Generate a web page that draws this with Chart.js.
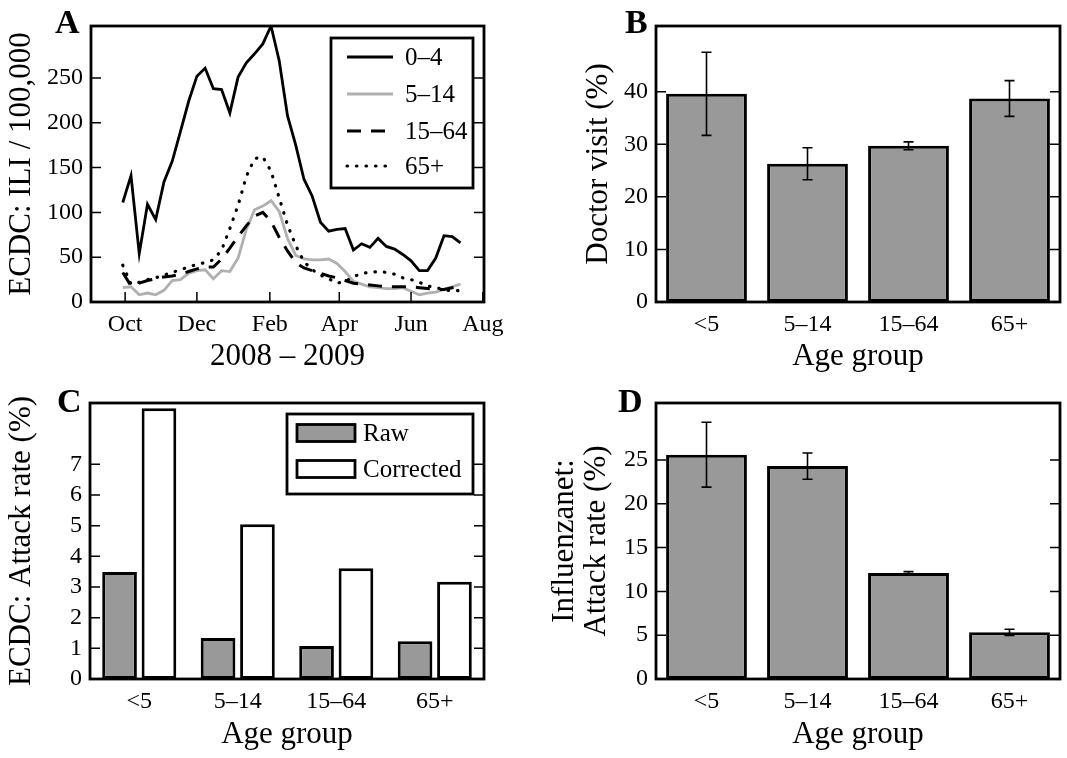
<!DOCTYPE html>
<html>
<head>
<meta charset="utf-8">
<script src="https://cdn.jsdelivr.net/npm/chart.js@4.4.0/dist/chart.umd.min.js"></script>
<style>
body{margin:0;background:#fff;}
.painel{position:absolute;}
#pa{left:0;top:0;width:540px;height:379px;}
#pb{left:540px;top:0;width:527px;height:379px;}
#pc{left:0;top:379px;width:540px;height:379px;}
#pd{left:540px;top:379px;width:527px;height:379px;}
</style>
</head>
<body>
<div class="painel" id="pa"><canvas id="grafA"></canvas></div>
<div class="painel" id="pb"><canvas id="grafB"></canvas></div>
<div class="painel" id="pc"><canvas id="grafC"></canvas></div>
<div class="painel" id="pd"><canvas id="grafD"></canvas></div>
<script>
// ILI per 100,000, ISO weeks 40/2008 .. 29/2009
const weeks = [40,41,42,43,44,45,46,47,48,49,50,51,52,1,2,3,4,5,6,7,8,9,10,11,12,13,14,15,16,17,18,19,20,21,22,23,24,25,26,27,28,29];
const ili04   = [111,141,54,109,92,134,157,190,224,252,261,238,237,211,251,267,277,288,308,269,208,175,137,118,89,79,81,82,58,65,61,71,62,59,53,46,35,35,49,74,73,66];
const ili514  = [16,17,8,10,8,13,24,25,32,35,36,26,35,34,49,81,103,107,113,101,71,52,48,47,47,48,43,34,23,20,17,16,15,15,16,12,8,10,11,14,17,20];
const ili1564 = [33,18,21,24,26,28,29,31,34,37,39,39,48,60,73,85,96,100,90,72,57,44,38,35,32,29,27,24,21,20,19,18,17,17,17,17,16,15,14,14,16,18];
const ili65   = [41,20,22,25,27,30,33,36,39,42,44,47,58,82,108,140,160,162,146,116,86,63,45,36,30,26,21,23,28,32,33,34,33,31,27,25,22,18,16,14,12,13];
const seriesNames = ['0–4','5–14','15–64','65+'];
const monthTicks = [0,61,123,182,243,304];   // days after 1 Oct 2008
const monthLabels = ['Oct','Dec','Feb','Apr','Jun','Aug'];
const iliTicks = [0,50,100,150,200,250];

const ageGroups = ['<5','5–14','15–64','65+'];
const doctorVisit = [39.6,26.3,29.7,38.7];
const doctorVisitErr = [7.9,3.05,0.75,3.4];
const doctorTicks = [0,10,20,30,40];

const attackRaw = [3.49,1.34,1.08,1.23];
const attackCorrected = [8.83,5.05,3.61,3.17];
const attackTicks = [0,1,2,3,4,5,6,7];

const influenzanet = [25.6,24.3,12.1,5.33];
const influenzanetErr = [3.7,1.5,0.15,0.35];
const influenzanetTicks = [0,5,10,15,20,25];

Chart.defaults.font.family = '"Liberation Serif", serif';
Chart.defaults.color = '#000';
Chart.defaults.animation = false;

// week index -> days after 1 Oct (week 40 starts Mon 29 Sep)
function dia(i){ return i*7 - 2; }
function pontos(serie){ return serie.map((v,i)=>({x: dia(i), y: v})); }

function eixoY(ticks, min, max, titulo, pad, largura){
  return {
    min: min, max: max,
    afterBuildTicks: ax => { ax.ticks = ticks.map(v=>({value:v})); },
    afterFit: ax => { ax.width = largura; },
    grid: {display:false, drawTicks:false},
    border: {display:false},
    ticks: {padding:8, font:{size:24}, color:'#000'},
    title: {display:true, text:titulo, color:'#000', font:{size:31, lineHeight:'32px'}, padding:{top:pad, bottom:0}}
  };
}

function eixoX(titulo, pad, altura){
  return {
    afterFit: ax => { ax.height = altura; },
    grid: {display:false, drawTicks:false},
    border: {display:false},
    ticks: {padding:8, font:{size:24}, color:'#000', maxRotation:0, autoSkip:false},
    title: {display:true, text:titulo, color:'#000', font:{size:31, lineHeight:'32px'}, padding:{top:0, bottom:pad}}
  };
}

// frame, inward ticks and the panel letter
const quadro = {
  id: 'quadro',
  afterDatasetsDraw(chart, args, o){
    const {ctx, chartArea:a, scales} = chart;
    ctx.save();
    ctx.strokeStyle = '#000';
    ctx.lineWidth = 1.5;
    ctx.beginPath();
    scales.y.ticks.forEach(t=>{
      const py = scales.y.getPixelForValue(t.value);
      ctx.moveTo(a.left, py); ctx.lineTo(a.left+10, py);
      ctx.moveTo(a.right, py); ctx.lineTo(a.right-10, py);
    });
    if(o.xTicks){
      scales.x.ticks.forEach(t=>{
        const px = scales.x.getPixelForValue(t.value);
        ctx.moveTo(px, a.bottom); ctx.lineTo(px, a.bottom-10);
      });
    }
    ctx.stroke();
    ctx.lineWidth = 2.8;
    ctx.strokeRect(a.left, a.top, a.right-a.left, a.bottom-a.top);
    ctx.fillStyle = '#000';
    ctx.font = 'bold 34px "Liberation Serif", serif';
    ctx.textAlign = 'left';
    ctx.textBaseline = 'alphabetic';
    ctx.fillText(o.letra, o.x, o.y);
    ctx.restore();
  }
};

// vertical error bars with caps
const barrasErro = {
  id: 'barrasErro',
  afterDatasetsDraw(chart){
    const {ctx, scales} = chart;
    ctx.save();
    ctx.strokeStyle = '#000';
    ctx.lineWidth = 1.6;
    chart.data.datasets.forEach((ds, i)=>{
      if(!ds.erros) return;
      chart.getDatasetMeta(i).data.forEach((bar, j)=>{
        const y1 = scales.y.getPixelForValue(ds.data[j] - ds.erros[j]);
        const y2 = scales.y.getPixelForValue(ds.data[j] + ds.erros[j]);
        ctx.beginPath();
        ctx.moveTo(bar.x, y1); ctx.lineTo(bar.x, y2);
        ctx.moveTo(bar.x-5, y1); ctx.lineTo(bar.x+5, y1);
        ctx.moveTo(bar.x-5, y2); ctx.lineTo(bar.x+5, y2);
        ctx.stroke();
      });
    });
    ctx.restore();
  }
};

// boxed legend inside the plot
const legenda = {
  id: 'legenda',
  afterDraw(chart, args, o){
    const ctx = chart.ctx;
    ctx.save();
    ctx.fillStyle = '#fff';
    ctx.fillRect(o.caixa[0], o.caixa[1], o.caixa[2]-o.caixa[0], o.caixa[3]-o.caixa[1]);
    ctx.strokeStyle = '#000';
    ctx.lineWidth = 2.8;
    ctx.strokeRect(o.caixa[0], o.caixa[1], o.caixa[2]-o.caixa[0], o.caixa[3]-o.caixa[1]);
    chart.data.datasets.forEach((ds, i)=>{
      const y = o.linhas[i];
      if(o.tipo === 'linha'){
        ctx.beginPath();
        ctx.strokeStyle = ds.borderColor;
        ctx.lineWidth = ds.borderWidth;
        ctx.lineCap = ds.borderCapStyle || 'butt';
        ctx.setLineDash(ds.borderDash || []);
        ctx.moveTo(o.simbolo[0], y); ctx.lineTo(o.simbolo[1], y);
        ctx.stroke();
        ctx.setLineDash([]);
      } else {
        ctx.fillStyle = ds.backgroundColor;
        ctx.fillRect(o.simbolo[0], y-8.5, o.simbolo[1]-o.simbolo[0], 17);
        ctx.strokeStyle = '#000';
        ctx.lineWidth = 2.8;
        ctx.strokeRect(o.simbolo[0], y-8.5, o.simbolo[1]-o.simbolo[0], 17);
      }
      ctx.fillStyle = '#000';
      ctx.font = '25px "Liberation Serif", serif';
      ctx.textAlign = 'left';
      ctx.textBaseline = 'middle';
      ctx.fillText(ds.label, o.texto, y+1);
    });
    ctx.restore();
  }
};

const base = {responsive:true, maintainAspectRatio:false, events:[]};

new Chart(document.getElementById('grafA'), {
  type: 'line',
  data: {datasets: [
    {label:seriesNames[0], data:pontos(ili04), borderColor:'#000', borderWidth:2.8, order:3},
    {label:seriesNames[1], data:pontos(ili514), borderColor:'#b0b0b0', borderWidth:2.8, order:2},
    {label:seriesNames[2], data:pontos(ili1564), borderColor:'#000', borderWidth:3, borderDash:[14,10], order:1},
    {label:seriesNames[3], data:pontos(ili65), borderColor:'#000', borderWidth:3.2, borderDash:[0.5,9], borderCapStyle:'round', order:0}
  ]},
  options: Object.assign({}, base, {
    layout: {padding:{top:26, right:56, left:0, bottom:0}},
    elements: {point:{radius:0}, line:{tension:0}},
    plugins: {
      legend:{display:false}, tooltip:{enabled:false},
      quadro:{letra:'A', x:55, y:33, xTicks:true},
      legenda:{tipo:'linha', caixa:[331,38,473,188], linhas:[57,94,131,166], simbolo:[347,393], texto:405}
    },
    scales: {
      x: Object.assign(eixoX('2008 – 2009', 6, 77), {
        type:'linear', min:-29, max:305,
        afterBuildTicks: ax => { ax.ticks = monthTicks.map(v=>({value:v})); }
      }),
      y: eixoY(iliTicks, 0, Math.max(...ili04), 'ECDC: ILI / 100,000', 6, 91)
    }
  }),
  plugins: [quadro, legenda]
});
Chart.getChart('grafA').options.scales.x.ticks.callback = v => monthLabels[monthTicks.indexOf(v)];
Chart.getChart('grafA').update();

new Chart(document.getElementById('grafB'), {
  type: 'bar',
  data: {labels: ageGroups, datasets: [
    {label:'Doctor visit', data:doctorVisit, erros:doctorVisitErr, backgroundColor:'#999999', borderColor:'#000', borderWidth:3, borderSkipped:false, barPercentage:0.8, categoryPercentage:1.0}
  ]},
  options: Object.assign({}, base, {
    layout: {padding:{top:26, right:7, left:0, bottom:0}},
    plugins: {legend:{display:false}, tooltip:{enabled:false}, quadro:{letra:'B', x:85, y:33}},
    scales: {
      x: eixoX('Age group', 6, 77),
      y: eixoY(doctorTicks, 0, 52.5, 'Doctor visit (%)', 43, 116)
    }
  }),
  plugins: [quadro, barrasErro]
});

new Chart(document.getElementById('grafC'), {
  type: 'bar',
  data: {labels: ageGroups, datasets: [
    {label:'Raw', data:attackRaw, backgroundColor:'#999999', borderColor:'#000', borderWidth:3, borderSkipped:false, barPercentage:0.88, categoryPercentage:0.8},
    {label:'Corrected', data:attackCorrected, backgroundColor:'#ffffff', borderColor:'#000', borderWidth:3, borderSkipped:false, barPercentage:0.88, categoryPercentage:0.8}
  ]},
  options: Object.assign({}, base, {
    layout: {padding:{top:24, right:56, left:0, bottom:0}},
    plugins: {
      legend:{display:false}, tooltip:{enabled:false},
      quadro:{letra:'C', x:57, y:33},
      legenda:{tipo:'caixa', caixa:[287,35,473,115], linhas:[54,90], simbolo:[297,355], texto:363}
    },
    scales: {
      x: eixoX('Age group', 7, 79),
      y: eixoY(attackTicks, 0, 9, 'ECDC: Attack rate (%)', 6, 90)
    }
  }),
  plugins: [quadro, legenda]
});

new Chart(document.getElementById('grafD'), {
  type: 'bar',
  data: {labels: ageGroups, datasets: [
    {label:'Influenzanet', data:influenzanet, erros:influenzanetErr, backgroundColor:'#999999', borderColor:'#000', borderWidth:3, borderSkipped:false, barPercentage:0.8, categoryPercentage:1.0}
  ]},
  options: Object.assign({}, base, {
    layout: {padding:{top:24, right:7, left:0, bottom:0}},
    plugins: {legend:{display:false}, tooltip:{enabled:false}, quadro:{letra:'D', x:78, y:33}},
    scales: {
      x: eixoX('Age group', 7, 79),
      y: eixoY(influenzanetTicks, 0, 31.5, ['Influenzanet:', 'Attack rate (%)'], 9, 116)
    }
  }),
  plugins: [quadro, barrasErro]
});
</script>
</body>
</html>
